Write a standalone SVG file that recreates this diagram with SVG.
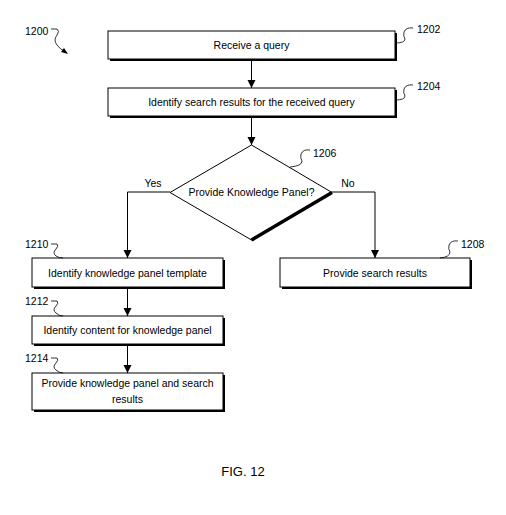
<svg xmlns="http://www.w3.org/2000/svg" width="506" height="515" viewBox="0 0 506 515">
<style>
text{font-family:"Liberation Sans",Arial,sans-serif;font-size:10.5px;fill:#000}
.c{text-anchor:middle}
.box{fill:#fff;stroke:#000;stroke-width:1}
.sh{fill:#000}
.ln{fill:none;stroke:#000;stroke-width:1}
.ld{fill:none;stroke:#000;stroke-width:0.8}
.fig{font-size:13px}
</style>
<defs>
<marker id="ah" viewBox="0 0 8 10" refX="8" refY="5" markerWidth="8" markerHeight="10" markerUnits="userSpaceOnUse" orient="auto">
<path d="M0,1 L8,5 L0,9 Z" fill="#000"/>
</marker>
</defs>
<rect width="506" height="515" fill="#fff"/>
<g id="connectors">
<line class="ln" x1="251.5" y1="60" x2="251.5" y2="88" marker-end="url(#ah)"/>
<line class="ln" x1="251.5" y1="117" x2="251.5" y2="145" marker-end="url(#ah)"/>
<polyline class="ln" points="170,192 127.5,192 127.5,258" marker-end="url(#ah)"/>
<polyline class="ln" points="332,192 375,192 375,258" marker-end="url(#ah)"/>
<line class="ln" x1="127.5" y1="288" x2="127.5" y2="316" marker-end="url(#ah)"/>
<line class="ln" x1="127.5" y1="345" x2="127.5" y2="373" marker-end="url(#ah)"/>
<text x="153" y="187" class="c">Yes</text>
<text x="348" y="187" class="c">No</text>
</g>
<g id="n1200">
<text x="25" y="35">1200</text>
<path class="ld" d="M51,29 L57,29 Q60,31 57,35 Q53,40 57,45 Q60,49 64,51"/>
<path d="M68,54 L61,52 L64,48 Z" fill="#000"/>
</g>
<g id="n1202">
<rect class="sh" x="110" y="33" width="287" height="28"/>
<rect class="box" x="108" y="31" width="287" height="28"/>
<text x="251.5" y="49" class="c">Receive a query</text>
<path class="ld" d="M413,28 Q406,27 404,32 Q403,36 405,39 Q405,43 395,43"/>
<text x="417" y="33">1202</text>
</g>
<g id="n1204">
<rect class="sh" x="110" y="90" width="287" height="28"/>
<rect class="box" x="108" y="88" width="287" height="28"/>
<text x="251.5" y="106" class="c">Identify search results for the received query</text>
<path class="ld" d="M413,85 Q406,84 404,89 Q403,93 405,96 Q405,100 395,100"/>
<text x="417" y="90">1204</text>
</g>
<g id="n1206">
<polygon class="box" points="251.5,145 332,192.5 251.5,240 170,192.5"/>
<line x1="332" y1="192.5" x2="251.5" y2="240" stroke="#000" stroke-width="3.5"/>
<text x="251.5" y="196" class="c">Provide Knowledge Panel?</text>
<path class="ld" d="M310,150 Q303,149 301,154 Q300,158 302,161 Q302,166 290,167"/>
<text x="313" y="157">1206</text>
</g>
<g id="n1208">
<rect class="sh" x="282" y="260" width="190" height="29"/>
<rect class="box" x="280" y="258" width="190" height="29"/>
<text x="375" y="277" class="c">Provide search results</text>
<path class="ld" d="M458,241 Q451,240 449,245 Q448,249 450,252 Q450,257 440,258"/>
<text x="461" y="248">1208</text>
</g>
<g id="n1210">
<rect class="sh" x="34" y="260" width="191" height="29"/>
<rect class="box" x="32" y="258" width="191" height="29"/>
<text x="127.5" y="277" class="c">Identify knowledge panel template</text>
<text x="25" y="248">1210</text>
<path class="ld" d="M51,244 L57,244 Q59,246 56,249 Q52,253 56,256 Q59,258 63,258"/>
</g>
<g id="n1212">
<rect class="sh" x="34" y="318" width="191" height="28"/>
<rect class="box" x="32" y="316" width="191" height="28"/>
<text x="127.5" y="334" class="c">Identify content for knowledge panel</text>
<text x="25" y="305">1212</text>
<path class="ld" d="M51,301 L57,301 Q59,303 56,306 Q52,310 56,313 Q59,316 63,316"/>
</g>
<g id="n1214">
<rect class="sh" x="34" y="375" width="191" height="37"/>
<rect class="box" x="32" y="373" width="191" height="37"/>
<text x="127.5" y="387" class="c">Provide knowledge panel and search</text>
<text x="127.5" y="403" class="c">results</text>
<text x="25" y="362">1214</text>
<path class="ld" d="M51,358 L57,358 Q59,360 56,363 Q52,367 56,370 Q59,373 63,373"/>
</g>
<text x="243" y="476" class="c fig">FIG. 12</text>
</svg>
